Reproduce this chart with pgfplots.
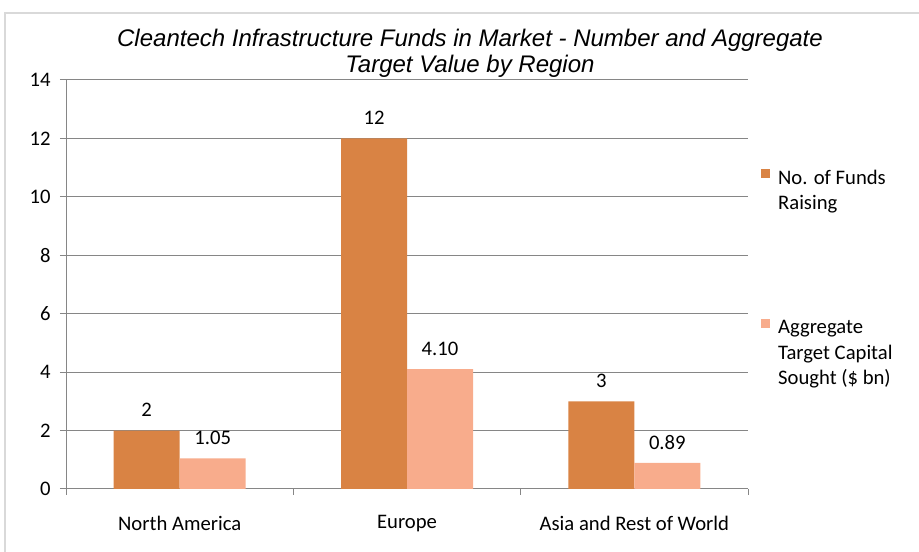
\documentclass[border=0pt]{standalone}
\usepackage{fontspec}
\setmainfont{Carlito}
\newfontfamily\titlefont{Liberation Sans}
\usepackage{pgfplots}
\usepackage{pgfplotstable}
\pgfplotsset{compat=1.18}
\definecolor{darkor}{RGB}{217,131,68}
\definecolor{lightor}{RGB}{248,172,140}
\definecolor{gridg}{RGB}{134,134,134}
\definecolor{frameg}{RGB}{217,217,217}
\pgfplotstableread{
x y lab
0 2 2
1 12 12
2 3 3
}\funds
\pgfplotstableread{
x y lab
0 1.05 1.05
1 4.10 4.10
2 0.89 0.89
}\capital
\begin{document}
\begin{tikzpicture}[x=0.75pt,y=0.75pt]
\useasboundingbox (-66,-63) rectangle (853,489);
\draw[frameg, line width=1.5pt] (-61,-80) rectangle (870,476);
\node[font=\titlefont\itshape\fontsize{18}{19.5}\selectfont, align=center] at (404,435.5)
  {Cleantech Infrastructure Funds in Market - Number and Aggregate\\Target Value by Region};
\begin{axis}[
  at={(0,0)}, anchor=south west,
  width=511.5pt, height=306.75pt, scale only axis,
  xmin=-0.5, xmax=2.5, ymin=0, ymax=14,
  ytick={0,2,...,14},
  xtick={-0.5,0.5,1.5,2.5}, xticklabels={},
  extra x ticks={0,1,2},
  extra x tick labels={North America, Europe, Asia and Rest of World},
  extra x tick style={tick style={draw=none}, grid=none},
  axis x line=bottom, axis y line=left,
  axis line style={gridg, line width=0.75pt, -},
  ymajorgrids, grid style={gridg, line width=0.75pt},
  tick align=outside, major tick length=4.5pt,
  tick style={gridg, line width=0.75pt},
  /pgf/number format/assume math mode=true,
  ticklabel style={font=\fontsize{15.5}{19}\selectfont, text=black},
  yticklabel style={xshift=-3.5pt},
  xticklabel style={yshift=-12pt},
  ybar=0pt, bar width=49.5pt,
  point meta=explicit symbolic,
  nodes near coords,
  every node near coord/.append style={font=\fontsize{15.5}{19}\selectfont, text=black, anchor=south, inner sep=0pt, yshift=10pt},
  legend style={draw=none, fill=none, at={(1.013,0.79)}, anchor=north west,
    nodes={font=\fontsize{15.5}{19}\selectfont, text=black, inner sep=0pt},
    row sep=99pt, column sep=6pt},
  legend cell align=left,
  legend image code/.code={\fill[#1] (0pt,0.5pt) rectangle (6.75pt,7.25pt);},
]
\addplot[fill=darkor, draw=none] table[x=x, y=y, meta=lab] {\funds};
\addlegendentry{\parbox[t]{110pt}{No. of Funds\\Raising}}
\addplot[fill=lightor, draw=none] table[x=x, y=y, meta=lab] {\capital};
\addlegendentry{\parbox[t]{110pt}{Aggregate\\Target Capital\\Sought (\$ bn)}}
\end{axis}
\end{tikzpicture}
\end{document}
